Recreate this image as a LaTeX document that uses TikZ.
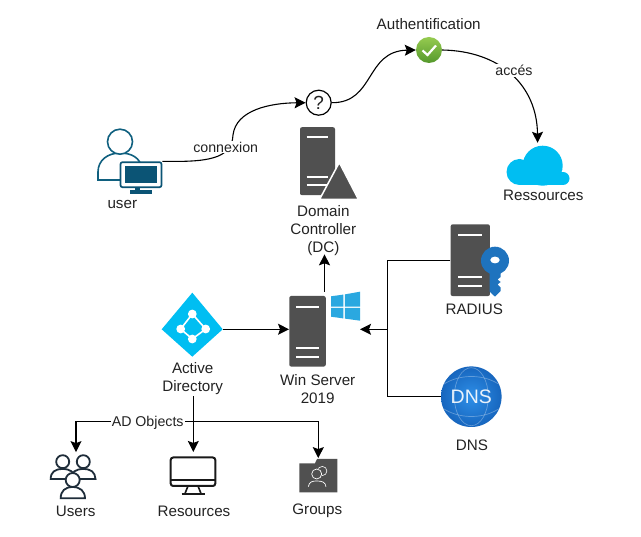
\documentclass[tikz,border=0pt]{standalone}
\usepackage{fontspec}
\setmainfont{Liberation Sans}
\usetikzlibrary{arrows.meta,calc}

\definecolor{srvgray}{HTML}{505050}
\definecolor{usrteal}{HTML}{10607F}
\definecolor{scrteal}{HTML}{0B5475}
\definecolor{cloudblue}{HTML}{00BEF2}
\definecolor{winblue}{HTML}{2AA8E0}
\definecolor{keyblue}{HTML}{1E73BE}
\definecolor{txtgray}{HTML}{222222}
\definecolor{icondark}{HTML}{1F2D3A}
\definecolor{dnsin}{HTML}{2E8FE8}
\definecolor{dnsout}{HTML}{1766BE}
\definecolor{oktop}{HTML}{96CB50}
\definecolor{okbot}{HTML}{55982C}

\begin{document}
\begin{tikzpicture}[
    x=1pt,
    y=-1pt,
    >={Stealth[length=11pt,width=11pt,inset=2pt]},
    edge/.style = {
      line width = 1.1pt,
      black
    },
    lbl/.style = {
      text = txtgray,
      font = \fontsize{15.2}{18.3}\selectfont,
      align = center,
      inner sep = 1pt
    },
    edgelbl/.style = {
      lbl,
      fill = white,
      font = \fontsize{14.2}{17}\selectfont
    },
    srv/.style = {
      fill = srvgray,
      rounded corners = 2pt,
      inner sep = 0pt
    },
    bar/.style = {
      white,
      line width = 1.8pt
    },
    hole/.style = {
      inner sep = 0pt
    },
    peoplelw/.style = {
      draw = icondark,
      line width = 1.8pt,
      fill = white
    }
  ]
  \useasboundingbox (0,0) rectangle (641,537);

  % user
  \draw[usrteal,line width=1.6pt] (98,180) -- (98,172) .. controls (98,160) and (108,153) .. (120,153)
    .. controls (132,153) and (140,158) .. (142,168) -- (142,180) -- cycle;
  \draw[usrteal,line width=1.6pt,fill=white] (120,141.7) circle (12.5);
  \fill[scrteal] (135,188) rectangle (140,191);
  \fill[scrteal] (130,190.5) rectangle (152,194);
  \draw (141,174.7) node[draw=scrteal,fill=white,line width=1.7pt,rounded corners=2pt,inner sep=0pt,
    minimum width=41pt,minimum height=25pt] (usermon) {};
  \fill[scrteal] (125,165.7) rectangle (157,183.3);
  \draw (122.3,204.5) node[lbl] (usertxt) {user};

  % question mark and check
  \draw (318.7,102.7) node[draw,circle,line width=1.2pt,inner sep=0pt,minimum size=25pt,
    font=\fontsize{19}{19}\selectfont,text=txtgray] (qmark) {?};
  \draw (429,50) node[circle,inner sep=0pt,minimum size=26pt,top color=oktop,
    bottom color=okbot] (okmark) {};
  \draw[white,line width=2.2pt] (422.5,50.5) -- (427.5,55) -- (436,45.5);
  \draw (428.7,24) node[lbl] (authtxt) {Authentification};

  % cloud
  \draw (537.6,165) node[hole,minimum width=63pt,minimum height=44pt] (cloudicon) {};
  \fill[cloudblue] (542.7,165.7) circle (20);
  \fill[cloudblue] (519.5,172) circle (13);
  \fill[cloudblue] (563,178.5) circle (6.5);
  \fill[cloudblue] (519.5,172) rectangle (563,185);
  \draw (543.3,195.7) node[lbl] (restxt) {Ressources};

  % curved connectors
  \draw[edge,->] (usermon.north east) .. controls (205,162) and (232,160) .. (233,135)
    .. controls (236,110) and (270,103) .. (qmark.west);
  \draw (225.7,147) node[edgelbl] (cnxtxt) {connexion};
  \draw[edge,->] (qmark.east) .. controls (375,103) and (365,51) .. (okmark.west);
  \draw[edge,->] (okmark.east) .. controls (500,51) and (537,85) .. (cloudicon.north);
  \draw (514,70.7) node[edgelbl] (acctxt) {accés};

  % domain controller
  \draw (317.5,161.2) node[srv,minimum width=35pt,minimum height=68pt] (dcsrv) {};
  \draw[bar] (306.7,137) -- (328.3,137);
  \draw[bar] (306.7,176.7) -- (328.3,176.7);
  \draw[bar] (306.7,185) -- (328.3,185);
  \draw[fill=srvgray,draw=white,line width=1.5pt,line join=round] (339.3,162.5) -- (358.5,199.5) -- (319.5,199.5) -- cycle;
  \draw (323.3,230.5) node[lbl] (dctxt) {Domain\\Controller\\(DC)};

  % win server
  \draw (307.5,331.3) node[srv,minimum width=36.5pt,minimum height=70.6pt] (winsrv) {};
  \draw[bar] (296,306.7) -- (318.7,306.7);
  \draw[bar] (296,348.3) -- (318.7,348.3);
  \draw[bar] (296,357) -- (318.7,357);
  \fill[winblue] (331,296.3) -- (343.3,294.6) -- (343.3,306.6) -- (331,306.6) -- cycle;
  \fill[winblue] (344.8,294.4) -- (360,291.7) -- (360,306.6) -- (344.8,306.6) -- cycle;
  \fill[winblue] (331,308) -- (343.3,308) -- (343.3,318.4) -- (331,316.7) -- cycle;
  \fill[winblue] (344.8,308) -- (360,308) -- (360,320.7) -- (344.8,318.6) -- cycle;
  \draw (317.7,389) node[lbl] (wintxt) {Win Server\\2019};
  \coordinate (wintop) at (324.5,292);
  \coordinate (dcend) at (324.5,254.3);
  \coordinate (winlogo) at (360,329.3);
  \coordinate (junc) at (387.7,329.3);
  \draw[edge,->] (wintop) -- (dcend);
  \draw[edge,->] (junc) -- (winlogo);

  % active directory
  \fill[cloudblue] (192.3,292.7) -- (222.7,329.3) -- (192.3,356.7) -- (161.7,329.3) -- cycle;
  \draw (192.3,329.3) node[hole,minimum width=61pt,minimum height=4pt] (adicon) {};
  \draw[white,line width=1.6pt] (192.3,314) -- (205.7,329) -- (192.3,339) -- (180.7,329) -- cycle;
  \fill[white] (192.3,314) circle (4.4);
  \fill[white] (180.7,329) circle (4.4);
  \fill[white] (205.7,329) circle (4.4);
  \fill[white] (192.3,339) circle (4.4);
  \draw (192.7,378.7) node[lbl] (adtxt) {Active\\Directory};
  \draw[edge,->] (adicon.east) -- (adicon.east -| winsrv.west);

  % radius
  \draw (470.3,260.2) node[srv,minimum width=39.3pt,minimum height=71.7pt] (radsrv) {};
  \draw[bar] (458.3,235) -- (482.3,235);
  \draw[bar] (458.3,277.3) -- (482.3,277.3);
  \draw[bar] (458.3,286.3) -- (482.3,286.3);
  \fill[keyblue] (489.5,270) -- (500.7,270) -- (500.7,277) -- (497.5,279.5) -- (500.7,282) -- (497.5,284.5) -- (500.7,287.5)
    -- (500.7,291) -- (495,296.7) -- (489.5,291.5) -- cycle;
  \fill[keyblue] (495,260.7) circle (14);
  \fill[white] (495,260) ellipse (4.7 and 3.4);
  \draw (474.3,309.7) node[lbl] (radtxt) {RADIUS};

  % dns
  \draw (471.3,396.7) node[circle,inner sep=0pt,minimum size=60.6pt,shading=radial,
    inner color=dnsin,outer color=dnsout] (dnsicon) {};
  \draw[white,opacity=0.3,line width=0.7pt] (471.3,396.7) ellipse (17 and 29);
  \draw[white,opacity=0.3,line width=0.7pt] (444,384) .. controls (460,374) and (483,374) .. (498.5,384);
  \draw[white,opacity=0.3,line width=0.7pt] (444,409) .. controls (460,419) and (483,419) .. (498.5,409);
  \draw (471.3,397) node[inner sep=0pt,text=white,opacity=0.9,font=\fontsize{19.5}{20}\selectfont] (dnsname) {DNS};
  \draw (472,445) node[lbl] (dnstxt) {DNS};

  \draw[edge] (radsrv.west) -- (radsrv.west -| junc) -- (junc);
  \draw[edge] (junc) -- (junc |- dnsicon.west) -- (dnsicon.west);

  % bottom row
  \draw (76,475) node[hole,minimum width=46pt,minimum height=45.4pt] (usersicon) {};
  \draw[peoplelw,fill=none] (50.7,479) .. controls (50.7,472) and (55,469) .. (62.7,469) .. controls (70,469) and (75,472) .. (75,479) -- cycle;
  \draw[peoplelw,fill=none] (70.5,479) .. controls (71,472) and (76,469) .. (83.3,469) .. controls (91,469) and (95,472) .. (95.5,479) -- cycle;
  \draw[peoplelw] (62.7,461.7) circle (6.5);
  \draw[peoplelw] (83.3,461.7) circle (6.5);
  \draw[peoplelw] (60.7,498.3) .. controls (60.7,491) and (65,487) .. (72.7,487) .. controls (80,487) and (85,491) .. (85,498.3) -- cycle;
  \draw[peoplelw] (72.7,480) circle (7);
  \draw (75.7,511) node[lbl] (userstxt) {Users};

  \draw (193,473) node[hole,minimum width=44.6pt,minimum height=41.7pt] (resicon) {};
  \draw[black!90,line width=2pt,rounded corners=2.5pt] (170.7,457.5) rectangle (215.3,486);
  \draw[black!90,line width=1.4pt] (170.7,480) -- (215.3,480);
  \draw[black!90,line width=1.6pt] (188,486) -- (185,493.5);
  \draw[black!90,line width=1.6pt] (198,486) -- (201,493.5);
  \draw[black!90,line width=2pt] (181.7,494) -- (205,494);
  \draw (194,511) node[lbl] (resobjtxt) {Resources};

  \draw (318.3,475.3) node[hole,minimum width=38pt,minimum height=34pt] (grpicon) {};
  \fill[srvgray] (299.3,463.3) -- (315,463.3) -- (317,459) -- (337.3,459) -- (337.3,492.3) -- (299.3,492.3) -- cycle;
  \draw[white,line width=0.6pt] (322.3,471) circle (4.6);
  \draw[srvgray,fill=srvgray] (316.7,474) circle (5.6);
  \draw[white,line width=0.7pt] (316.7,474) circle (5);
  \draw[white,line width=0.7pt] (308.3,486.7) .. controls (309,481.5) and (313,481) .. (316.7,481) .. controls (322,481) and (325.5,482) .. (326,486.7);
  \draw (317.3,511) node[lbl] (grptxt) {Groups};

  \coordinate (bus) at (193.3,421.3);
  \draw[edge,->] (adtxt.south -| bus) -- (bus |- resicon.north);
  \draw[edge,->] (bus) -- (bus -| usersicon.north) -- (usersicon.north);
  \draw[edge,->] (bus) -- (bus -| grpicon.north) -- (grpicon.north);
  \draw (147.7,423) node[edgelbl] (objtxt) {AD Objects};
\end{tikzpicture}
\end{document}
